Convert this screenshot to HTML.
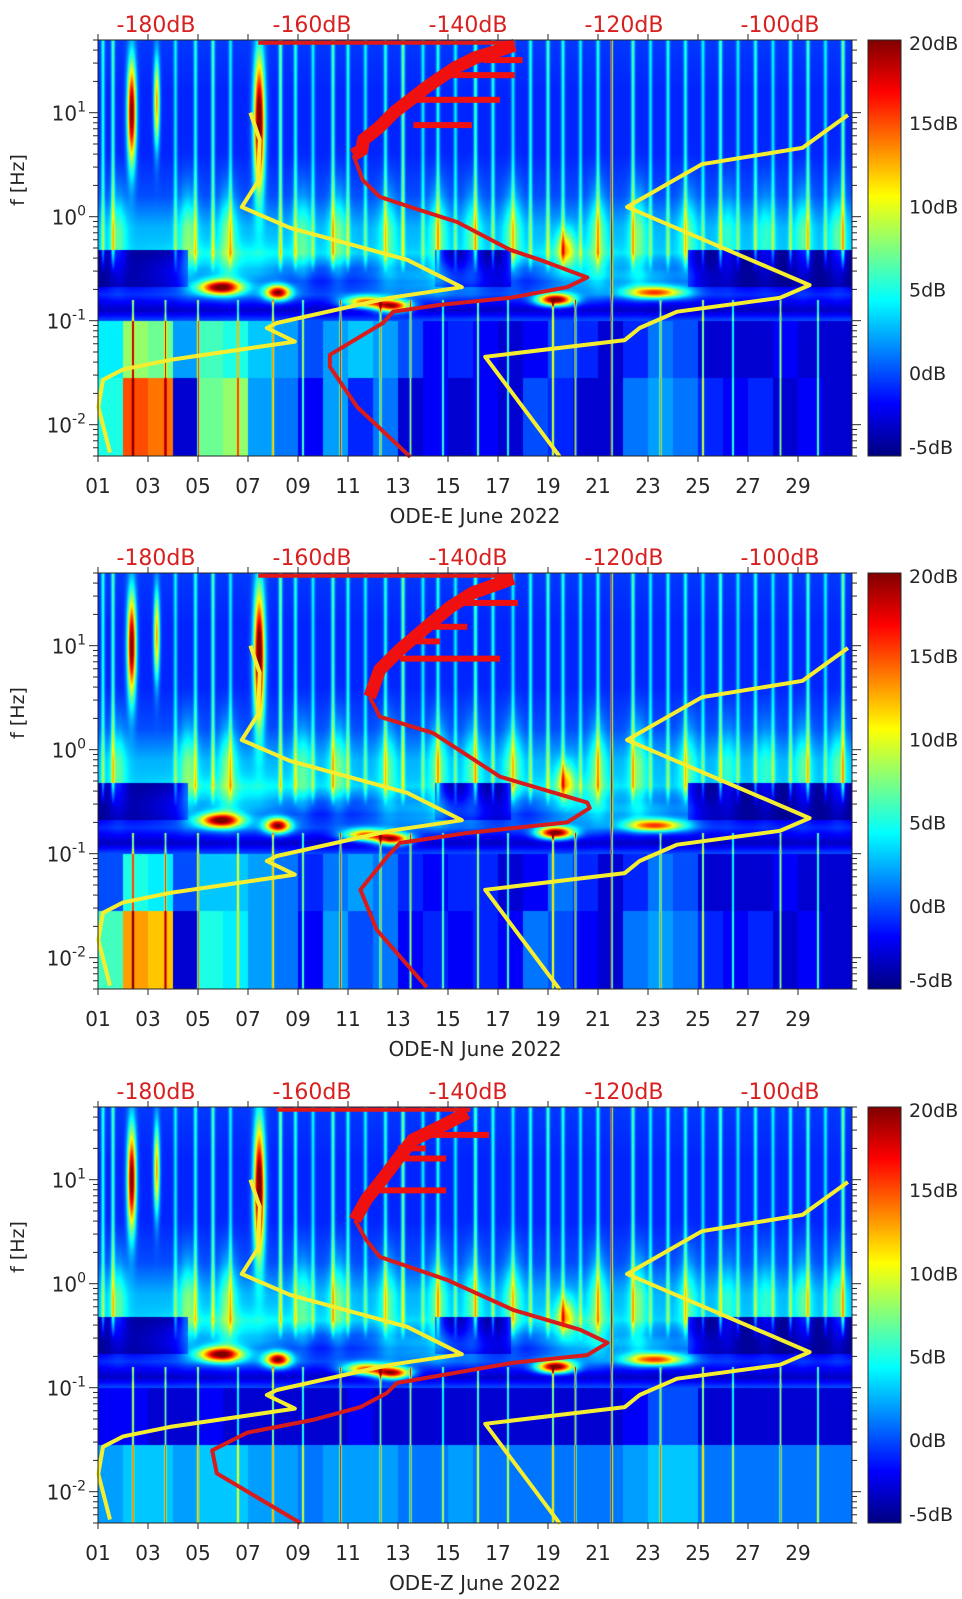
<!DOCTYPE html>
<html><head><meta charset="utf-8">
<style>
html,body{margin:0;padding:0;background:#fff;}
#root{position:relative;width:962px;height:1599px;overflow:hidden;font-family:"DejaVu Sans","Liberation Sans",sans-serif;}
canvas{position:absolute;}
svg{position:absolute;left:0;top:0;}
svg text{font-family:"DejaVu Sans","Liberation Sans",sans-serif;}
</style></head>
<body>
<div id="root">
<canvas id="heatE" width="754" height="416" style="left:98px;top:40px"></canvas>
<canvas id="heatN" width="754" height="416" style="left:98px;top:573px"></canvas>
<canvas id="heatZ" width="754" height="416" style="left:98px;top:1107px"></canvas>
<svg id="ov" width="962" height="1599"></svg>
</div>
<script>
// ---------- axis / tick data ----------
const dayTicks = ['01','03','05','07','09','11','13','15','17','19','21','23','25','27','29'];
const dayTickValues = [1,3,5,7,9,11,13,15,17,19,21,23,25,27,29];
const dbLabels = ['-180dB','-160dB','-140dB','-120dB','-100dB'];
const dbValues = [-180,-160,-140,-120,-100];
const cbLabels = ['20dB','15dB','10dB','5dB','0dB','-5dB'];
const cbValues = [20,15,10,5,0,-5];
const yDecades = [1,0,-1,-2];
const panelTitles = ['ODE-E June 2022','ODE-N June 2022','ODE-Z June 2022'];
const panelTops = [40,573,1107];

// ---------- noise model curves (same in all panels) ----------
const nlnmDb = [-167.9,-166.7,-166.9,-169.0,-162.8,-147.8,-140.8,-150.0,-164.5,-165.8,-162.2,-178.2,-184.2,-186.8,-187.4,-185.9];
const nlnmHz = [10,5.5,2.2,1.24,0.78,0.385,0.21,0.166,0.095,0.085,0.063,0.042,0.034,0.027,0.0148,0.0054];
const nhnmDb = [-91.3,-97.1,-110.0,-119.6,-96.2,-100.0,-113.2,-118.0,-119.9,-137.8,-128.2];
const nhnmHz = [9.5,4.6,3.2,1.24,0.22,0.166,0.122,0.085,0.065,0.045,0.0049];

// ---------- station PSD curves ----------
const redE_db = [-154.7,-153.5,-151.3,-146.2,-141.4,-134.6,-130.8,-124.7,-127.3,-134.6,-143.6,-149.6,-150.9,-157.7,-157.7,-154.2,-147.4];
const redE_hz = [3.93,2.26,1.55,1.16,0.89,0.48,0.385,0.26,0.21,0.166,0.142,0.122,0.095,0.047,0.036,0.0148,0.0049];
const jagE_db = [-154.7,-153.6,-153.4,-151.5,-149.4,-147.4,-145.5,-143.6,-141.7,-139.1,-135.9,-134.0];
const jagE_hz = [3.93,4.4,5.5,7.1,10.2,13.3,17.2,21.6,26.9,33.7,40,44.7];
const brE_hz = [7.6,13.3,23,32];
const brE_db0 = [-147,-147,-142,-138];
const brE_db1 = [-139.5,-135.9,-134,-133];
const topE_db = [-166.9,-134.0];

const redN_db = [-152.6,-151.3,-144.5,-135.9,-124.7,-124.4,-127.3,-140.1,-148.7,-150.4,-153.8,-151.7,-145.3];
const redN_hz = [3.22,2.07,1.45,0.55,0.31,0.275,0.20,0.158,0.127,0.093,0.045,0.0186,0.0052];
const jagN_db = [-152.6,-151.3,-148.7,-145.3,-142.3,-139.4,-135.9,-134.2];
const jagN_hz = [3.22,5.9,9.2,15.2,23.5,32.2,40,44.6];
const brN_hz = [7.5,15.2,25.8,11];
const brN_db0 = [-148.7,-145,-142,-147];
const brN_db1 = [-135.9,-140.1,-133.6,-143.6];
const topN_db = [-166.9,-134.2];

const redZ_db = [-154.5,-153.0,-151.3,-142.7,-134.2,-125.6,-122.1,-124.7,-134.2,-149.1,-150.4,-153.8,-159.9,-168.3,-172.8,-172.2,-161.5];
const redZ_hz = [4.1,2.6,1.81,1.09,0.56,0.36,0.27,0.206,0.174,0.111,0.089,0.065,0.049,0.037,0.025,0.015,0.005];
const jagZ_db = [-154.5,-153.0,-151.3,-149.1,-147.1,-143.6,-140.1];
const jagZ_hz = [4.1,6.5,9.4,15.5,24.1,32.2,43.9];
const brZ_hz = [7.9,16,27,20];
const brZ_db0 = [-152,-149,-147,-149];
const brZ_db1 = [-142.8,-142.8,-137.3,-145.4];
const topZ_db = [-164.5,-139.7];

// ---------- spectrogram model values (dB) ----------
const bgLF = [1.7,1.2,0.6,0.2,-0.1,-0.35,-0.5,-0.62,-0.75,-0.9,-1.0,-1.15,-1.3,-1.6,-2.31];
const bgDB = [-0.5,-1,-1,0,2.5,3,-1.5,-3,-1,-3.5,0,-2,-2.5,-2.5,-2.5];
const darkStart = [1,14.5,24.6];
const darkEnd = [4.6,17.5,31.2];
const blobDay = [5.9,8.2,11.7,12.8,19.3,23.3,6.5,14,20,23,19.7,2.35,7.45,3.35];
const blobLF  = [-0.68,-0.73,-0.82,-0.86,-0.8,-0.73,-0.55,-0.6,-0.55,-0.6,-0.3,1.0,0.9,1.1];
const blobSD  = [0.6,0.35,0.6,0.5,0.5,0.8,2.0,2.0,1.2,1.5,0.25,0.12,0.15,0.08];
const blobSL  = [0.05,0.05,0.04,0.04,0.04,0.04,0.15,0.12,0.15,0.1,0.12,0.35,0.45,0.3];
const blobAmp = [20,20,16,20,22,15,5,5,5,5,8,22,24,14];
const plumeDay = [1.8,4.6,6.2,9.2,10.6,12.6,14.6,16.0,17.6,21.0,22.6,24.6,26.2,27.7,29.2,30.6];
const plumeAmp = [4,5,5,4,5,4,5,4,5,5,5,4,3,3,4,4];
const streakDay = [1.2,1.6,4.1,4.9,5.6,6.3,8.3,8.9,9.6,10.4,11.0,11.7,12.5,13.2,14.0,14.6,15.3,16.1,16.8,17.6,18.3,19.0,19.6,20.3,21.0,22.4,23.1,23.8,24.5,25.2,25.9,26.6,27.3,28.0,28.7,29.4,30.1,30.8];
const streakAmp = [6,7,5,6,7,5,8,6,5,7,6,5,6,8,5,6,5,7,6,5,6,7,6,5,6,7,5,6,6,5,7,5,6,5,6,7,5,8];
const lowLineDay = [2.4,3.7,5.0,6.6,8.0,9.2,10.7,12.3,13.5,14.8,16.2,17.4,19.2,20.1,23.5,25.2,26.4,28.3,29.8];
const lowLineAmp = [14,12,13,10,14,11,15,12,13,10,12,11,14,15,12,14,10,13,11];
const fullLineDay = [21.55];
const fullLineAmp = [18];
const lowA_E = [4,8,7,2,6,5,3,2,0,2,3,2,0,-2,-1,-2,-3,-2,0,-1,-3,-1,1,0,-3,-3,-3,-2,-3,-3];
const lowB_E = [5,15,14,-3,7,8,2,1,-2,2,-1,1,-3,-2,-3,-2,-3,0,-1,-3,-3,1,2,1,-1,-2,-1,-3,-2,-3];
const lowA_N = [0,5,4,0,3,3,2,1,-1,1,2,1,-1,-2,-1,-1,-3,-2,1,-1,-3,-1,1,0,-3,-3,-3,-2,-3,-3];
const lowB_N = [6,13,12,-3,5,4,2,1,-2,2,0,1,-2,-1,-2,-1,-2,1,0,-2,-3,1,2,1,-1,-2,-1,-3,-2,-3];
const lowA_Z = [-2,-2,-3,-3,-2,-3,-3,-3,-3,-3,-2,-3,-3,-3,-3,-3,-3,-3,-3,-3,-3,-2,0,0,-3,-3,-3,-3,-3,-3];
const lowB_Z = [2,3,3,2,3,3,2,2,1,2,2,2,1,1,2,1,1,1,1,1,1,2,3,3,1,1,1,1,1,1];

// ---------- scales ----------
const PLOT_L = 98, PLOT_W = 754, PLOT_H = 416, PX_DAY = 25;
const LOG_TOP = Math.log10(50), LOG_BOT = Math.log10(0.005);
const xDay = d => PLOT_L + (d - 1) * PX_DAY;
const xDb = db => 156 + (db + 180) * 7.8;
const yHz = (top, f) => top + (LOG_TOP - Math.log10(f)) / (LOG_TOP - LOG_BOT) * PLOT_H;
const yCb = (top, v) => top + (20 - v) / 25 * PLOT_H;

function interp(xs, ys, x) {
  if (x >= xs[0]) return ys[0];
  for (let i = 1; i < xs.length; i++) {
    if (x >= xs[i]) { const t = (x - xs[i-1]) / (xs[i] - xs[i-1]); return ys[i-1] + t * (ys[i] - ys[i-1]); }
  }
  return ys[ys.length - 1];
}
function jet(v) {
  const c = t => Math.max(0, Math.min(1, t));
  return [c(1.5 - Math.abs(4*v - 3)), c(1.5 - Math.abs(4*v - 2)), c(1.5 - Math.abs(4*v - 1))];
}

function drawHeat(id, lowA, lowB) {
  const ctx = document.getElementById(id).getContext('2d');
  const img = ctx.createImageData(PLOT_W, PLOT_H);
  const W = PLOT_W, H = PLOT_H;
  const colDay = new Float32Array(W), colStreak = new Float32Array(W), colLow = new Float32Array(W), colFull = new Float32Array(W), colPlume = new Float32Array(W);
  const nb = blobDay.length;
  const bx = [], by = [];
  for (let x = 0; x < W; x++) {
    const d = 1 + (x + 0.5) / PX_DAY; colDay[x] = d;
    streakDay.forEach((s, i) => { const dx = (d - s) * PX_DAY; colStreak[x] += streakAmp[i] * Math.exp(-dx*dx/3); });
    lowLineDay.forEach((s, i) => { const dx = (d - s) * PX_DAY; colLow[x] += lowLineAmp[i] * Math.exp(-dx*dx/0.8); });
    fullLineDay.forEach((s, i) => { const dx = (d - s) * PX_DAY; colFull[x] += fullLineAmp[i] * Math.exp(-dx*dx/0.8); });
    plumeDay.forEach((s, i) => { const dd = (d - s) / 0.25; colPlume[x] += plumeAmp[i] * Math.exp(-dd*dd/2); });
  }
  for (let b = 0; b < nb; b++) {
    bx.push(new Float32Array(W)); by.push(new Float32Array(H));
    for (let x = 0; x < W; x++) { const t = (colDay[x] - blobDay[b]) / blobSD[b]; bx[b][x] = Math.exp(-t*t/2); }
  }
  const rowLF = new Float32Array(H), rowBg = new Float32Array(H);
  for (let y = 0; y < H; y++) {
    const lf = LOG_TOP - (y + 0.5) / H * (LOG_TOP - LOG_BOT);
    rowLF[y] = lf; rowBg[y] = interp(bgLF, bgDB, lf);
    for (let b = 0; b < nb; b++) { const t = (lf - blobLF[b]) / blobSL[b]; by[b][y] = Math.exp(-t*t/2); }
  }
  for (let y = 0; y < H; y++) {
    const lf = rowLF[y];
    const upEnv = lf > -0.35 ? 1 : Math.max(0, 1 - (-0.35 - lf) / 0.2);
    const lowEnv = lf < -0.8 ? 1 : 0;
    const plEnv = Math.exp(-Math.pow((lf + 0.15) / 0.3, 2) / 2);
    for (let x = 0; x < W; x++) {
      const d = colDay[x];
      let v = rowBg[y];
      if (lf < -1.55) v = lowB[Math.min(29, Math.floor(d - 1))];
      else if (lf < -1.0) v = lowA[Math.min(29, Math.floor(d - 1))];
      for (let k = 0; k < darkStart.length; k++) {
        if (d >= darkStart[k] && d <= darkEnd[k] && lf < -0.32 && lf > -0.68) v = -4.5;
      }
      for (let b = 0; b < nb; b++) v += blobAmp[b] * bx[b][x] * by[b][y];
      v += colPlume[x] * plEnv + colStreak[x] * upEnv + colLow[x] * lowEnv + colFull[x];
      const c = jet(Math.max(0, Math.min(1, (v + 5) / 25)));
      const i = (y * W + x) * 4;
      img.data[i] = c[0]*255; img.data[i+1] = c[1]*255; img.data[i+2] = c[2]*255; img.data[i+3] = 255;
    }
  }
  ctx.putImageData(img, 0, 0);
}
drawHeat('heatE', lowA_E, lowB_E);
drawHeat('heatN', lowA_N, lowB_N);
drawHeat('heatZ', lowA_Z, lowB_Z);

// ---------- SVG overlay ----------
const NS = 'http://www.w3.org/2000/svg';
const svg = document.getElementById('ov');
function mk(tag, attrs, parent) {
  const e = document.createElementNS(NS, tag);
  for (const k in attrs) e.setAttribute(k, attrs[k]);
  (parent || svg).appendChild(e);
  return e;
}
const defs = mk('defs', {});
const grad = mk('linearGradient', {id: 'jetg', x1: 0, y1: 0, x2: 0, y2: 1}, defs);
[['0%','#800000'],['12.5%','#ff0000'],['37.5%','#ffff00'],['62.5%','#00ffff'],['87.5%','#0000ff'],['100%','#000080']].forEach(s => mk('stop', {offset: s[0], 'stop-color': s[1]}, grad));

const redCurves = [[redE_db, redE_hz, jagE_db, jagE_hz, brE_hz, brE_db0, brE_db1, topE_db],
                   [redN_db, redN_hz, jagN_db, jagN_hz, brN_hz, brN_db0, brN_db1, topN_db],
                   [redZ_db, redZ_hz, jagZ_db, jagZ_hz, brZ_hz, brZ_db0, brZ_db1, topZ_db]];
const panelKeys = ['ode-e','ode-n','ode-z'];

panelTops.forEach((top, p) => {
  const g = mk('g', {});
  
  
  const bottom = top + PLOT_H, right = PLOT_L + PLOT_W;
  const toPts = (dbs, hzs) => dbs.map((v, i) => xDb(v).toFixed(1) + ',' + yHz(top, hzs[i]).toFixed(1)).join(' ');

  const nl = mk('polyline', {points: toPts(nlnmDb, nlnmHz), fill: 'none', stroke: '#f5ee30', 'stroke-width': 4, 'stroke-linejoin': 'round'}, g);
  
  
  const nh = mk('polyline', {points: toPts(nhnmDb, nhnmHz), fill: 'none', stroke: '#f5ee30', 'stroke-width': 4, 'stroke-linejoin': 'round'}, g);
  
  

  const rc = redCurves[p];
  const topY = yHz(top, 47);
  const tl = mk('line', {x1: xDb(rc[7][0]), x2: xDb(rc[7][1]), y1: topY, y2: topY, stroke: '#e01818', 'stroke-width': 4}, g);
  
  
  const jg = mk('polyline', {points: toPts(rc[2], rc[3]), fill: 'none', stroke: '#f01010', 'stroke-width': 13, 'stroke-linejoin': 'round'}, g);
  
  
  rc[4].forEach((hz, i) => {
    const y = yHz(top, hz);
    const b = mk('line', {x1: xDb(rc[5][i]), x2: xDb(rc[6][i]), y1: y, y2: y, stroke: '#f01010', 'stroke-width': 6}, g);
    
    
  });
  const rl = mk('polyline', {points: toPts(rc[0], rc[1]), fill: 'none', stroke: '#d81c1c', 'stroke-width': 4, 'stroke-linejoin': 'round'}, g);
  
  

  const box = mk('rect', {x: PLOT_L, y: top, width: PLOT_W, height: PLOT_H, fill: 'none', stroke: '#262626', 'stroke-width': 1}, g);
  
  

  dayTickValues.forEach((d, i) => {
    const x = xDay(d);
    mk('line', {x1: x, x2: x, y1: bottom, y2: bottom + 6, stroke: '#262626'}, g);
    mk('line', {x1: x, x2: x, y1: top, y2: top - 6, stroke: '#262626'}, g);
    const t = mk('text', {x: x, y: bottom + 37, 'font-size': 20, fill: '#262626', 'text-anchor': 'middle'}, g);
    t.textContent = dayTicks[i];
    
    
  });
  const xt = mk('text', {x: 475, y: bottom + 67, 'font-size': 20, fill: '#262626', 'text-anchor': 'middle'}, g);
  xt.textContent = panelTitles[p];
  
  

  dbValues.forEach((v, i) => {
    const t = mk('text', {x: xDb(v), y: top - 8, 'font-size': 22, fill: '#d92020', 'text-anchor': 'middle'}, g);
    t.textContent = dbLabels[i];
    
    
  });

  for (let dec = -3; dec <= 1; dec++) {
    for (let m = 1; m <= 9; m++) {
      const f = m * Math.pow(10, dec);
      if (f < 0.005 - 1e-9 || f > 50 + 1e-9) continue;
      const y = yHz(top, f), len = m === 1 ? 9 : 5;
      mk('line', {x1: PLOT_L, x2: PLOT_L - len, y1: y, y2: y, stroke: '#262626'}, g);
      mk('line', {x1: right, x2: right + len, y1: y, y2: y, stroke: '#262626'}, g);
    }
  }
  yDecades.forEach(e => {
    const y = yHz(top, Math.pow(10, e));
    const t = mk('text', {x: 86, y: y + 8, 'font-size': 20, fill: '#262626', 'text-anchor': 'end'}, g);
    
    
    const s1 = mk('tspan', {}, t); s1.textContent = '10';
    const s2 = mk('tspan', {dy: -9, 'font-size': 14}, t); s2.textContent = String(e);
  });
  const yt = mk('text', {x: 0, y: 0, 'font-size': 19, fill: '#262626', 'text-anchor': 'middle', transform: 'translate(24,' + (top + 140) + ') rotate(-90)'}, g);
  yt.textContent = 'f [Hz]';
  
  

  const cb = mk('rect', {x: 868, y: top, width: 33, height: PLOT_H, fill: 'url(#jetg)', stroke: '#262626', 'stroke-width': 1}, g);
  
  
  cbValues.forEach((v, i) => {
    const y = yCb(top, v);
    const yy = i === 0 ? y + 10 : (i === cbValues.length - 1 ? y - 2 : y + 7);
    const t = mk('text', {x: 909, y: yy, 'font-size': 19, fill: '#262626'}, g);
    t.textContent = cbLabels[i];
    
    
  });
});
</script>
</body></html>
